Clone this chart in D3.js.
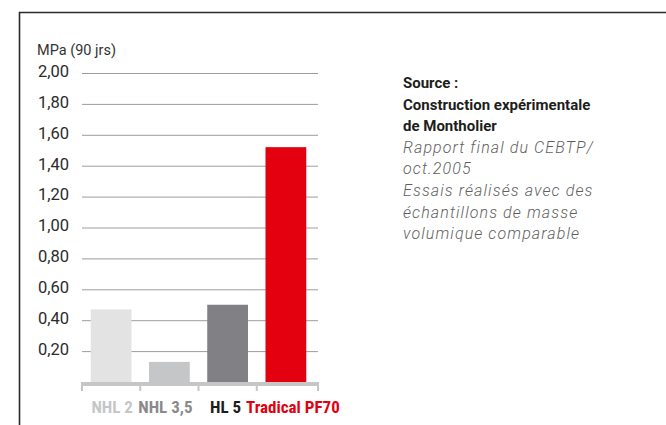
<!DOCTYPE html>
<html>
<head>
<meta charset="utf-8">
<script src="https://cdn.jsdelivr.net/npm/d3@7"></script>
<style>
  body { margin: 0; background: #fff; }
  svg { display: block; }
  .cond { font-family: "Liberation Sans Narrow", "Roboto Condensed", "Arial Narrow", sans-serif; font-stretch: condensed; font-weight: bold; }
</style>
</head>
<body>
<svg width="666" height="425"></svg>
<script>
let svg = d3.select("svg"),
    width = 666,
    height = 425;

// data
const categories = ["NHL 2", "NHL 3,5", "HL 5", "Tradical PF70"];
const values = [0.47, 0.13, 0.50, 1.52];
const barColors = ["#e3e3e4", "#c5c6c8", "#818085", "#e3000f"];
const labelColors = ["#c6c6c8", "#8a8a8d", "#1d1d1b", "#e3000f"];
const yTicks = [0.2, 0.4, 0.6, 0.8, 1.0, 1.2, 1.4, 1.6, 1.8, 2.0];
const unitLabel = "MPa (90 jrs)";
const noteBold = ["Source :", "Construction expérimentale", "de Montholier"];
const noteItalic = ["Rapport final du CEBTP/", "oct.2005", "Essais réalisés avec des", "échantillons de masse", "volumique comparable"];

// small nudges so the category labels don't run into each other
const labelShift = [1, -4, -2, 7];

const fmt = d => d3.format(".2f")(d).replace(".", ",");

let x = d3.scaleBand()
    .domain(categories)
    .range([82, 315])
    .paddingInner(0.3)
    .paddingOuter(0.15);

let y = d3.scaleLinear()
    .domain([0, 2])
    .range([382, 73]);

// frame
svg.append("path")
    .attr("d", "M19.5,425V12.5H666")
    .attr("fill", "none")
    .attr("stroke", "#2b2b2b")
    .attr("stroke-width", 1.6);

// grid + y labels
let yAxis = svg.append("g")
    .attr("transform", "translate(82,0)")
    .call(d3.axisLeft(y).tickValues(yTicks).tickFormat(fmt).tickSize(-236).tickPadding(13));

yAxis.select(".domain").remove();
yAxis.selectAll(".tick line")
    .attr("stroke", "#9d9d9f")
    .attr("stroke-width", 1);
yAxis.selectAll(".tick text")
    .attr("dy", "0.2em")
    .attr("fill", "#2b2b2b")
    .style("font-family", "Roboto, sans-serif")
    .style("font-size", "16.5px");

svg.append("text")
    .attr("x", 37)
    .attr("y", 55)
    .attr("fill", "#333")
    .style("font-family", "Roboto, sans-serif")
    .style("font-size", "14.5px")
    .text(unitLabel);

// bars
svg.append("g")
    .selectAll("rect")
    .data(categories)
    .enter().append("rect")
    .attr("x", d => x(d))
    .attr("width", x.bandwidth())
    .attr("y", (d, i) => y(values[i]))
    .attr("height", (d, i) => y(0) - y(values[i]))
    .attr("fill", (d, i) => barColors[i]);

// baseline with ticks between bars
let gap = x.step() * x.paddingInner() / 2;
let tickX = categories.map(d => x(d) - gap).concat([318]);
tickX[0] = 82;

let base = svg.append("g");
base.append("line")
    .attr("x1", 81).attr("x2", 319)
    .attr("y1", 384).attr("y2", 384)
    .attr("stroke", "#c5c6c8")
    .attr("stroke-width", 4);
base.selectAll("line.tk")
    .data(tickX)
    .enter().append("line")
    .attr("class", "tk")
    .attr("x1", d => d).attr("x2", d => d)
    .attr("y1", 384).attr("y2", 391)
    .attr("stroke", "#c5c6c8")
    .attr("stroke-width", 2);

// category labels
svg.append("g")
    .selectAll("text")
    .data(categories)
    .enter().append("text")
    .attr("class", "cond")
    .attr("x", (d, i) => x(d) + x.bandwidth() / 2 + labelShift[i])
    .attr("y", 413)
    .attr("text-anchor", "middle")
    .attr("fill", (d, i) => labelColors[i])
    .style("font-size", "17px")
    .text(d => d);

// source note
let note = svg.append("text")
    .attr("x", 403)
    .attr("y", 88)
    .style("font-family", "Roboto, sans-serif")
    .style("font-size", "15px");

noteBold.forEach((t, i) => {
  note.append("tspan")
      .attr("x", 403)
      .attr("dy", i === 0 ? 0 : 21.6)
      .attr("fill", "#1d1d1b")
      .style("font-weight", "bold")
      .text(t);
});
noteItalic.forEach(t => {
  note.append("tspan")
      .attr("x", 403)
      .attr("dy", 21.6)
      .attr("fill", "#5f5f61")
      .style("font-style", "italic")
      .style("font-weight", "300")
      .style("font-size", "16px")
      .style("letter-spacing", "1.1px")
      .text(t);
});
</script>
</body>
</html>
